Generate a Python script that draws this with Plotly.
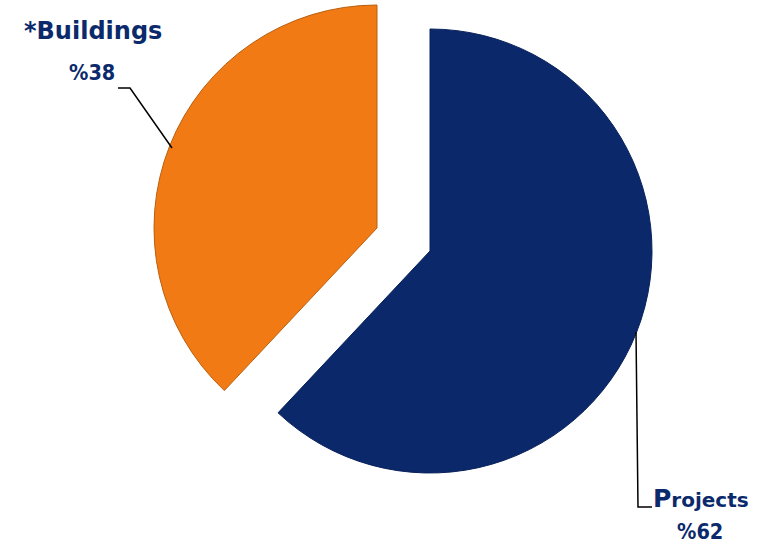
import plotly.graph_objects as go

W, H = 761, 544

# Data
categories = ["Projects", "Buildings"]
values = [62, 38]
colors = ["#0a286a", "#f27a14"]
edge_colors = ["#08215a", "#b9600f"]
pct_labels = ["%62", "%38"]


def px(x):
    return x / W


def py(y):
    return 1 - y / H


fig = go.Figure()

# Each slice drawn from the same data, with its own (exploded) centre
centres = [(430, 251, 222), (377, 228, 223)]
for i, (cx, cy, r) in enumerate(centres):
    cols = ["rgba(0,0,0,0)"] * len(values)
    cols[i] = colors[i]
    lcols = ["rgba(0,0,0,0)"] * len(values)
    lcols[i] = edge_colors[i]
    fig.add_trace(go.Pie(
        labels=categories,
        values=values,
        sort=False,
        direction="clockwise",
        rotation=0,
        textinfo="none",
        hoverinfo="label+percent",
        marker=dict(colors=cols, line=dict(color=lcols, width=1)),
        domain=dict(x=[px(cx - r), px(cx + r)], y=[py(cy + r), py(cy - r)]),
        showlegend=False,
    ))

font_family = "DejaVu Sans"
pct_family = "DejaVu Sans Condensed, DejaVu Sans"
navy = "#0b2a6c"

annotations = [
    dict(x=px(93), y=py(31), text="<b>*Buildings</b>", font=dict(size=24, color=navy, family=font_family)),
    dict(x=px(92), y=py(73), text="<b>" + pct_labels[1] + "</b>", font=dict(size=21.5, color=navy, family=pct_family)),
    dict(x=px(701), y=py(498), text="<b><span style='font-size:25px'>P</span>rojects</b>",
         font=dict(size=20, color=navy, family=font_family)),
    dict(x=px(700), y=py(531), text="<b>" + pct_labels[0] + "</b>", font=dict(size=21.5, color=navy, family=pct_family)),
]
for a in annotations:
    a.update(xref="paper", yref="paper", showarrow=False, xanchor="center", yanchor="middle")

# leader lines
def path(points):
    return "M " + " L ".join(f"{px(x)},{py(y)}" for x, y in points)

shapes = [
    dict(type="path", xref="paper", yref="paper", path=path([(118, 88), (130, 88), (172, 148)]),
         line=dict(color="black", width=1.5)),
    dict(type="path", xref="paper", yref="paper", path=path([(636, 332), (638, 507), (652, 507)]),
         line=dict(color="black", width=1.5)),
]

fig.update_layout(
    width=W, height=H,
    margin=dict(l=0, r=0, t=0, b=0),
    paper_bgcolor="white",
    plot_bgcolor="white",
    annotations=annotations,
    shapes=shapes,
)

fig.write_html("out.html")
